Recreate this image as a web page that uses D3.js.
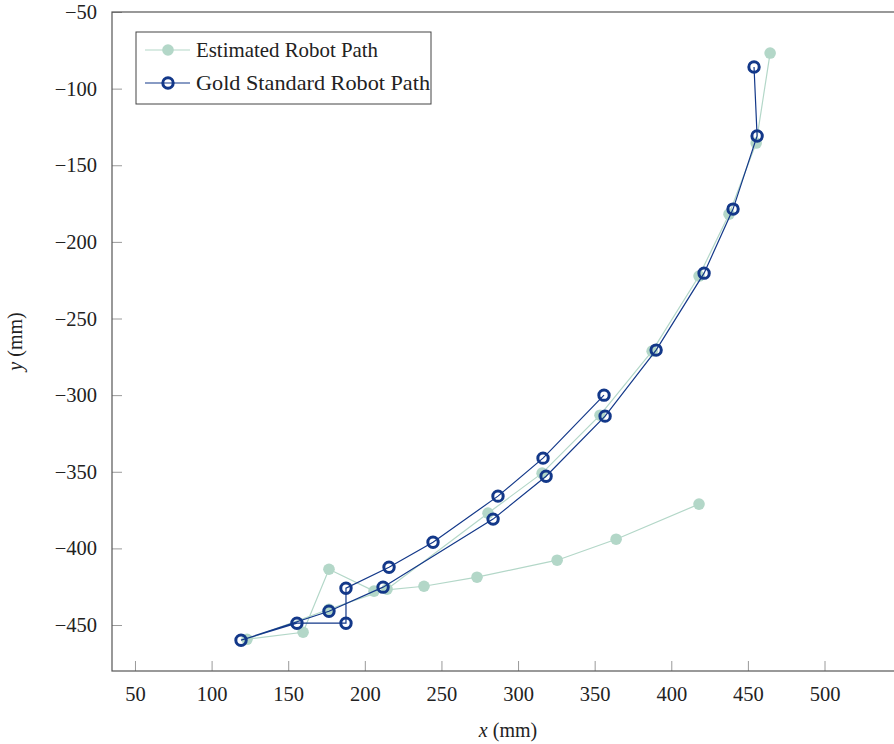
<!DOCTYPE html>
<html>
<head>
<meta charset="utf-8">
<script src="https://cdn.jsdelivr.net/npm/d3@7"></script>
<style>
  body { margin: 0; background: #fff; }
  text { font-family: "Liberation Serif", "DejaVu Serif", serif; fill: #222; }
</style>
</head>
<body>
<div id="vis"></div>
<script>
// Declare constants for frame
const FRAME_WIDTH = 894;
const FRAME_HEIGHT = 744;
const MARGINS = {left: 112, right: -1, top: 12, bottom: 73};

const VIS_WIDTH = FRAME_WIDTH - MARGINS.left - MARGINS.right;
const VIS_HEIGHT = FRAME_HEIGHT - MARGINS.top - MARGINS.bottom;

// data (mm)
const EST_X = [464.5, 455.4, 437.7, 418.1, 387.5, 353.5, 315.7, 280.4, 214.5, 176.6,
               123.1, 159.7, 176.6, 206.0, 238.6, 273.2, 325.5, 364.0, 418.1];
const EST_Y = [-76.8, -135.5, -181.9, -222.3, -271.3, -313.1, -350.9, -377.0, -426.6, -439.7,
               -459.3, -454.7, -413.6, -427.9, -424.7, -418.8, -407.7, -394.0, -371.1];

const GOLD_X = [454.0, 456.0, 440.3, 421.4, 390.1, 356.8, 318.3, 283.7, 211.9, 176.6,
                119.2, 155.7, 187.7, 187.7, 215.8, 244.5, 286.9, 316.3, 356.1];
const GOLD_Y = [-85.9, -130.9, -178.6, -220.4, -270.6, -313.7, -352.9, -380.9, -425.3, -441.0,
                -459.9, -448.8, -448.8, -426.0, -412.3, -396.0, -365.9, -341.1, -300.0];

const X_TICKS = [50, 100, 150, 200, 250, 300, 350, 400, 450, 500];
const Y_TICKS = [-50, -100, -150, -200, -250, -300, -350, -400, -450];

const SERIES_NAMES = ["Estimated Robot Path", "Gold Standard Robot Path"];
const EST_COLOR = "#b3d7c8";
const GOLD_COLOR = "#133889";

const estData = EST_X.map((x, i) => ({x: x, y: EST_Y[i]}));
const goldData = GOLD_X.map((x, i) => ({x: x, y: GOLD_Y[i]}));

// create frame
const FRAME = d3.select("#vis")
                .append("svg")
                  .attr("width", FRAME_WIDTH)
                  .attr("height", FRAME_HEIGHT);

// scales
const X_SCALE = d3.scaleLinear()
                  .domain([35, 546])
                  .range([0, VIS_WIDTH]);

const Y_SCALE = d3.scaleLinear()
                  .domain([-480, -50])
                  .range([VIS_HEIGHT, 0]);

const PLOT = FRAME.append("g")
                  .attr("transform", "translate(" + MARGINS.left + "," + MARGINS.top + ")");

const minus = (v) => String(v).replace("-", "\u2212");

// x axis (ticks pointing inward)
const xAxis = PLOT.append("g")
    .attr("transform", "translate(0," + VIS_HEIGHT + ")")
    .call(d3.axisBottom(X_SCALE).tickValues(X_TICKS).tickSizeInner(-10).tickSizeOuter(0).tickPadding(15));
xAxis.select(".domain").remove();
xAxis.selectAll(".tick line").attr("stroke", "#9a9a9a").attr("stroke-width", 1);
xAxis.selectAll(".tick text").attr("font-size", "20.5px").attr("fill", "#222")
     .attr("font-family", "Liberation Serif, serif");

// y axis
const yAxis = PLOT.append("g")
    .call(d3.axisLeft(Y_SCALE).tickValues(Y_TICKS).tickSizeInner(-10).tickSizeOuter(0).tickPadding(15)
          .tickFormat(minus));
yAxis.select(".domain").remove();
yAxis.selectAll(".tick line").attr("stroke", "#9a9a9a").attr("stroke-width", 1);
yAxis.selectAll(".tick text").attr("font-size", "20.5px").attr("fill", "#222")
     .attr("font-family", "Liberation Serif, serif");

// frame box
PLOT.append("rect")
    .attr("x", 0).attr("y", 0)
    .attr("width", VIS_WIDTH).attr("height", VIS_HEIGHT)
    .attr("fill", "none")
    .attr("stroke", "#555")
    .attr("stroke-width", 1.2);

const line = d3.line()
               .x((d) => X_SCALE(d.x))
               .y((d) => Y_SCALE(d.y));

// estimated path
PLOT.append("path")
    .datum(estData)
    .attr("d", line)
    .attr("fill", "none")
    .attr("stroke", EST_COLOR)
    .attr("stroke-width", 1.2);

PLOT.selectAll(".est")
    .data(estData)
    .enter()
    .append("circle")
      .attr("class", "est")
      .attr("cx", (d) => X_SCALE(d.x))
      .attr("cy", (d) => Y_SCALE(d.y))
      .attr("r", 5.8)
      .attr("fill", EST_COLOR);

// gold standard path
PLOT.append("path")
    .datum(goldData)
    .attr("d", line)
    .attr("fill", "none")
    .attr("stroke", GOLD_COLOR)
    .attr("stroke-width", 1.2);

PLOT.selectAll(".gold")
    .data(goldData)
    .enter()
    .append("circle")
      .attr("class", "gold")
      .attr("cx", (d) => X_SCALE(d.x))
      .attr("cy", (d) => Y_SCALE(d.y))
      .attr("r", 5.2)
      .attr("fill", "none")
      .attr("stroke", GOLD_COLOR)
      .attr("stroke-width", 3);

// axis labels
FRAME.append("text")
     .attr("x", 508).attr("y", 737)
     .attr("text-anchor", "middle")
     .attr("font-size", "20px")
     .html('<tspan font-style="italic">x</tspan> (mm)');

FRAME.append("text")
     .attr("transform", "translate(22," + (MARGINS.top + VIS_HEIGHT / 2) + ") rotate(-90)")
     .attr("text-anchor", "middle")
     .attr("font-size", "20px")
     .html('<tspan font-style="italic">y</tspan> (mm)');

// legend
const LEGEND = FRAME.append("g").attr("transform", "translate(136,32)");
LEGEND.append("rect")
      .attr("width", 295).attr("height", 72)
      .attr("fill", "#fff")
      .attr("stroke", "#444")
      .attr("stroke-width", 1);

const legendRows = [
  {name: SERIES_NAMES[0], color: EST_COLOR, open: false, y: 18},
  {name: SERIES_NAMES[1], color: GOLD_COLOR, open: true, y: 51}
];

legendRows.forEach((r) => {
  LEGEND.append("line")
        .attr("x1", 9).attr("x2", 54)
        .attr("y1", r.y).attr("y2", r.y)
        .attr("stroke", r.color).attr("stroke-width", 1.2);
  LEGEND.append("circle")
        .attr("cx", 32).attr("cy", r.y)
        .attr("r", r.open ? 5.2 : 5.8)
        .attr("fill", r.open ? "none" : r.color)
        .attr("stroke", r.open ? r.color : "none")
        .attr("stroke-width", 3);
  LEGEND.append("text")
        .attr("x", 60).attr("y", r.y + 7)
        .attr("font-size", "21px")
        .attr("textLength", r.open ? 234 : 182)
        .attr("lengthAdjust", "spacingAndGlyphs")
        .text(r.name);
});
</script>
</body>
</html>
